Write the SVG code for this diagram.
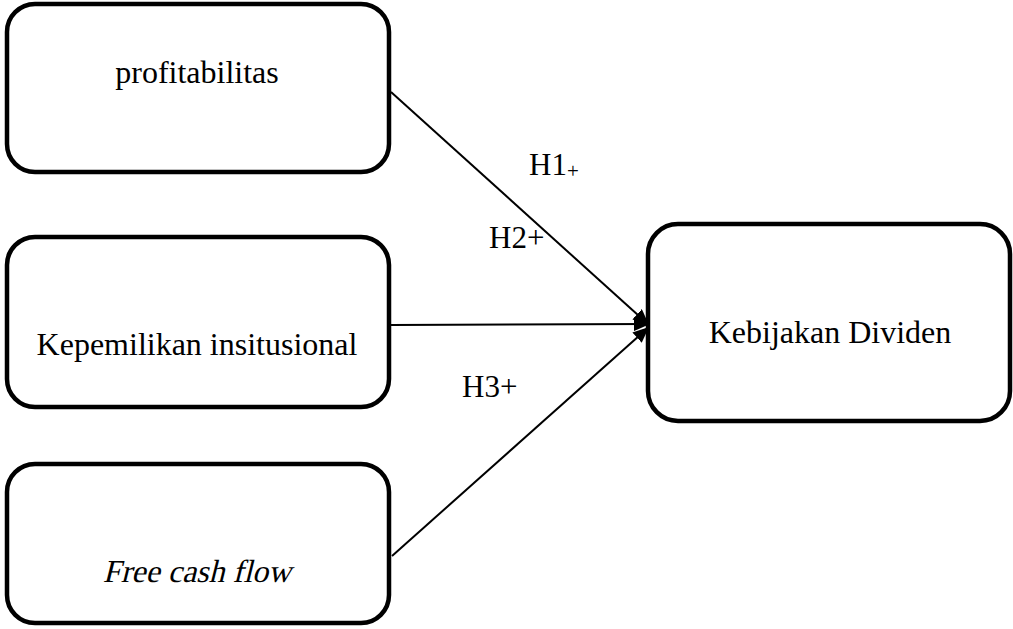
<svg xmlns="http://www.w3.org/2000/svg" width="1013" height="629" viewBox="0 0 1013 629">
<style>
.box{fill:#fff;stroke:#000;stroke-width:4.5}
.lbl{font-family:"Liberation Serif",serif;font-size:32px;fill:#000;text-anchor:middle}
.h{font-family:"Liberation Serif",serif;font-size:31px;fill:#000}
.conn{stroke:#000;stroke-width:2;fill:none}
</style>
<defs>
<marker id="arr" markerUnits="userSpaceOnUse" markerWidth="18" markerHeight="14" refX="16" refY="7" orient="auto">
<path d="M0,0 L16,7 L0,14 z" fill="#000"/>
</marker>
</defs>
<rect width="1013" height="629" fill="#fff"/>
<g id="connectors">
<line class="conn" x1="391" y1="92" x2="649" y2="325" marker-end="url(#arr)"/>
<line class="conn" x1="391" y1="325" x2="650" y2="324" marker-end="url(#arr)"/>
<line class="conn" x1="392" y1="556" x2="649" y2="327" marker-end="url(#arr)"/>
</g>
<g id="node-profitabilitas">
<rect class="box" x="7" y="4" width="382" height="168" rx="28"/>
<text class="lbl" x="197" y="83">profitabilitas</text>
</g>
<g id="node-kepemilikan">
<rect class="box" x="7" y="237" width="382" height="170" rx="28"/>
<text class="lbl" x="197" y="355">Kepemilikan insitusional</text>
</g>
<g id="node-fcf">
<rect class="box" x="7" y="464" width="382" height="159" rx="28"/>
<text class="lbl" transform="translate(197,582) skewX(-14)" x="0" y="0">Free cash flow</text>
</g>
<g id="node-kebijakan">
<rect class="box" x="648" y="224" width="362" height="197" rx="30"/>
<text class="lbl" x="830" y="343">Kebijakan Dividen</text>
</g>
<g id="labels">
<text class="h" x="529" y="175">H1<tspan font-size="21" dy="3">+</tspan></text>
<text class="h" x="489" y="248">H2+</text>
<text class="h" x="462" y="397">H3+</text>
</g>
</svg>
